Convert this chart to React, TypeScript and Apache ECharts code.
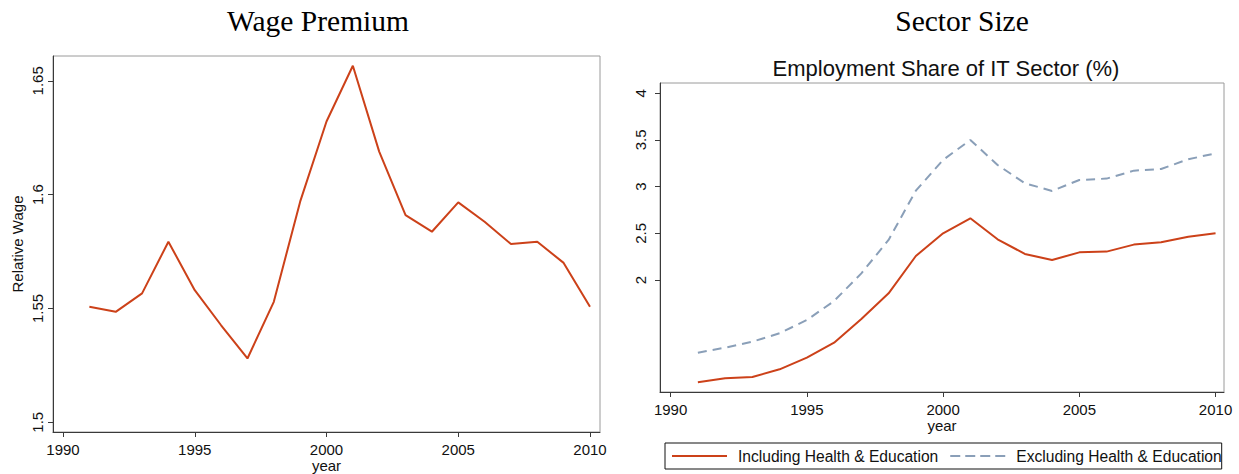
import React, { useEffect, useRef } from "react";
import * as echarts from "echarts";

// Years covered by both panels
const years = [
  1991, 1992, 1993, 1994, 1995, 1996, 1997, 1998, 1999, 2000,
  2001, 2002, 2003, 2004, 2005, 2006, 2007, 2008, 2009, 2010,
];

// Relative wage of IT workers
const relativeWage = [
  1.5507, 1.5485, 1.5566, 1.5793, 1.558, 1.5426, 1.528, 1.5529, 1.5969, 1.6321,
  1.6566, 1.6189, 1.591, 1.5837, 1.5966, 1.5881, 1.5783, 1.5793, 1.570, 1.5507,
];

// Employment share of the IT sector (%)
const shareIncluding = [
  0.904, 0.947, 0.961, 1.043, 1.168, 1.328, 1.582, 1.857, 2.257, 2.5,
  2.661, 2.436, 2.279, 2.214, 2.296, 2.304, 2.379, 2.404, 2.464, 2.5,
];
const shareExcluding = [
  1.221, 1.275, 1.339, 1.429, 1.571, 1.775, 2.071, 2.429, 2.957, 3.286,
  3.5, 3.232, 3.036, 2.954, 3.071, 3.086, 3.171, 3.189, 3.293, 3.357,
];

const yearTicks = [1990, 1995, 2000, 2005, 2010];
const wageTicks = [1.5, 1.55, 1.6, 1.65];
const shareTicks = [2, 2.5, 3, 3.5, 4];

const seriesNames = ["Including Health & Education", "Excluding Health & Education"];

const SANS = "Liberation Sans, Arial, sans-serif";
const SERIF = "Liberation Serif, Times New Roman, serif";
const RED = "#cc4119";
const BLUE = "#8a9fb8";
const AXIS = "#3a3a3a";

// Legend keys: a solid stroke and a four-dash stroke
const solidKey = "path://M0,0h55v2h-55z";
const dashedKey = "path://M0,0h10v2h-10z M15,0h10v2h-10z M30,0h10v2h-10z M45,0h10v2h-10z";

const pairs = (vals: number[]) => years.map((y, i) => [y, vals[i]]);

function xAxisFor(gridIndex: number, min: number, max: number) {
  return {
    type: "value",
    gridIndex,
    min,
    max,
    name: "year",
    nameLocation: "middle",
    nameGap: 26,
    nameMoveOverlap: false,
    nameTextStyle: { fontFamily: SANS, fontSize: 15, color: "#111" },
    axisLine: { show: true, lineStyle: { color: AXIS, width: 1 } },
    axisTick: { show: true, customValues: yearTicks, length: 5, lineStyle: { color: AXIS } },
    axisLabel: {
      customValues: yearTicks,
      fontFamily: SANS,
      fontSize: 15,
      color: "#111",
      margin: 10,
      formatter: (v: number) => String(v),
    },
    splitLine: { show: false },
  };
}

function yAxisFor(
  gridIndex: number,
  min: number,
  max: number,
  ticks: number[],
  name: string,
  margin: number
) {
  return {
    type: "value",
    gridIndex,
    min,
    max,
    name,
    nameLocation: "middle",
    nameGap: 28,
    nameMoveOverlap: false,
    nameTextStyle: { fontFamily: SANS, fontSize: 15, color: "#111" },
    axisLine: { show: true, lineStyle: { color: AXIS, width: 1 } },
    axisTick: { show: true, customValues: ticks, length: 5, lineStyle: { color: AXIS } },
    axisLabel: {
      customValues: ticks,
      rotate: 90,
      fontFamily: SANS,
      fontSize: 15,
      color: "#111",
      margin,
      formatter: (v: number) => String(v),
    },
    splitLine: { show: false },
  };
}

export default function App() {
  const ref = useRef<HTMLDivElement>(null);

  useEffect(() => {
    if (!ref.current) return;
    const chart = echarts.init(ref.current, undefined, { renderer: "svg" });
    chart.setOption({
      animation: false,
      backgroundColor: "#ffffff",
      title: [
        {
          text: "Wage Premium",
          left: 313,
          top: 1,
          textAlign: "center",
          textStyle: { fontFamily: SERIF, fontSize: 29.5, fontWeight: "normal", color: "#000" },
        },
        {
          text: "Sector Size",
          left: 957,
          top: 1,
          textAlign: "center",
          textStyle: { fontFamily: SERIF, fontSize: 29.5, fontWeight: "normal", color: "#000" },
        },
        {
          text: "Employment Share of IT Sector (%)",
          left: 941,
          top: 52,
          textAlign: "center",
          textStyle: { fontFamily: SANS, fontSize: 22, fontWeight: "normal", color: "#111" },
        },
      ],
      legend: {
        data: [
          { name: seriesNames[0], icon: solidKey },
          { name: seriesNames[1], icon: dashedKey },
        ],
        left: 665,
        top: 443,
        orient: "horizontal",
        itemWidth: 55,
        itemHeight: 2,
        itemGap: 12,
        padding: [5, 0, 5, 7],
        borderColor: "#111",
        borderWidth: 1,
        textStyle: { fontFamily: SANS, fontSize: 15.6, color: "#111", padding: [0, 0, 0, 6] },
      },
      grid: [
        {
          left: 53,
          top: 56,
          width: 547,
          height: 376,
          show: true,
          borderColor: "#9a9a9a",
          borderWidth: 1,
          outerBoundsMode: "none",
        },
        {
          left: 660,
          top: 83,
          width: 564,
          height: 309,
          show: true,
          borderColor: "#9a9a9a",
          borderWidth: 1,
          outerBoundsMode: "none",
        },
      ],
      xAxis: [xAxisFor(0, 1989.62, 2010.38), xAxisFor(1, 1989.61, 2010.31)],
      yAxis: [
        yAxisFor(0, 1.4957, 1.6609, wageTicks, "Relative Wage", 8),
        yAxisFor(1, 0.8, 4.11, shareTicks, "", 12),
      ],
      series: [
        {
          type: "line",
          name: "Relative Wage",
          xAxisIndex: 0,
          yAxisIndex: 0,
          data: pairs(relativeWage),
          symbol: "none",
          lineStyle: { color: RED, width: 2 },
          itemStyle: { color: RED },
        },
        {
          type: "line",
          name: seriesNames[0],
          xAxisIndex: 1,
          yAxisIndex: 1,
          data: pairs(shareIncluding),
          symbol: "none",
          lineStyle: { color: RED, width: 2 },
          itemStyle: { color: RED },
        },
        {
          type: "line",
          name: seriesNames[1],
          xAxisIndex: 1,
          yAxisIndex: 1,
          data: pairs(shareExcluding),
          symbol: "none",
          lineStyle: { color: BLUE, width: 2, type: [9, 6] },
          itemStyle: { color: BLUE },
        },
      ],
    });
    return () => chart.dispose();
  }, []);

  return (
    <div
      ref={ref}
      style={{ position: "fixed", left: 0, top: 0, width: 1239, height: 474, background: "#fff" }}
    />
  );
}
